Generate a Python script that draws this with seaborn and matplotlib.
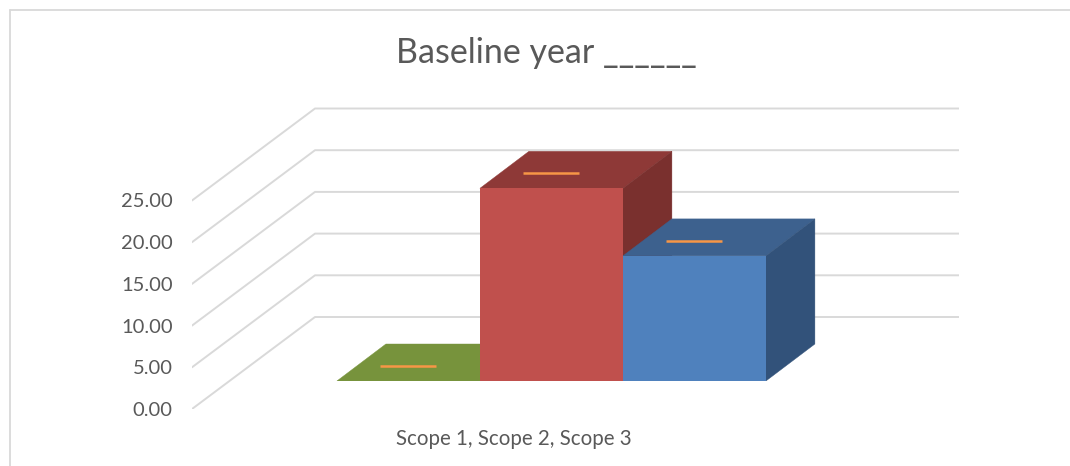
"""
Baseline year chart, faux 3D columns drawn on seaborn bars
"""

import matplotlib.pyplot as plt
from matplotlib.lines import Line2D
from matplotlib.patches import Polygon
import pandas as pd
import seaborn as sns

# Data
category = ['Scope 1, Scope 2, Scope 3']
scopes = ['Scope 1', 'Scope 2', 'Scope 3']
values = [0.0, 23.1, 15.0]
y_ticks = [0, 5, 10, 15, 20, 25]
title = 'Baseline year ______'

# Colours per scope
front_colors = ['#77933C', '#C0504D', '#4F81BD']
top_colors = ['#77933C', '#8E3937', '#3D618E']
side_colors = ['#5F7530', '#7A302E', '#32527A']
GRID = '#D9D9D9'
TEXT = '#595959'
DASH = '#F79646'

W, H = 1070, 466
PX_PER_UNIT = 8.34
Y_MAX = 40

sns.set_theme(style='white')
plt.rcParams['font.family'] = ['Lato', 'DejaVu Sans']

fig = plt.figure(figsize=(W / 100, H / 100), dpi=100)
height = Y_MAX * PX_PER_UNIT

# Walls: gridlines, value labels and the category label
ax_wall = fig.add_axes([192 / W, 1 - 409 / H, 767 / W, height / H])
ax_wall.set_xlim(0, 1)
ax_wall.set_ylim(0, Y_MAX)
wall_dx = 123 / 767
wall_dy = 92 / PX_PER_UNIT
for v in y_ticks:
    ax_wall.plot([0, wall_dx, 1], [v, v + wall_dy, v + wall_dy], color=GRID, lw=1.4)
ax_wall.set_yticks(y_ticks, [f'{v:.2f}' for v in y_ticks])
ax_wall.set_xticks([(1 - wall_dx) / 2], category)
ax_wall.tick_params(axis='y', length=0, pad=14, labelsize=14.5, labelcolor=TEXT)
ax_wall.tick_params(axis='x', length=0, pad=14.5, labelsize=14.8, labelcolor=TEXT)
sns.despine(ax=ax_wall, left=True, bottom=True)

# Columns: front faces come from seaborn, the depth faces follow the bars
ax = fig.add_axes([229.4 / W, 1 - 381 / H, 644 / W, height / H])
ax.patch.set_alpha(0)
df = pd.DataFrame({'category': category * 3, 'scope': scopes, 'value': values})
sns.barplot(data=df, x='category', y='value', hue='scope', palette=front_colors,
            width=429 / 644, gap=0, saturation=1, legend=False, linewidth=0, ax=ax)
ax.set_xlim(-0.5, 0.5)
ax.set_ylim(0, Y_MAX)
ax.axis('off')

bar_dx = 49 / 644
bar_dy = 37 / PX_PER_UNIT
dash_half = 28 / 644
dash_up = 15 / PX_PER_UNIT
for i, container in enumerate(ax.containers):
    bar = container[0]
    x0, x1, top = bar.get_x(), bar.get_x() + bar.get_width(), bar.get_height()
    bar.set_zorder(10)
    ax.add_patch(Polygon([(x0, top), (x1, top), (x1 + bar_dx, top + bar_dy), (x0 + bar_dx, top + bar_dy)],
                         facecolor=top_colors[i], edgecolor=top_colors[i], lw=0.3, zorder=2 + i))
    if top > 0:
        ax.add_patch(Polygon([(x1, 0), (x1, top), (x1 + bar_dx, top + bar_dy), (x1 + bar_dx, bar_dy)],
                             facecolor=side_colors[i], edgecolor=side_colors[i], lw=0.3, zorder=2 + i))
    xc = (x0 + x1) / 2
    ax.plot([xc - dash_half, xc + dash_half], [top + dash_up, top + dash_up],
            color=DASH, lw=1.8, solid_capstyle='butt', zorder=8)

# Chart frame, open on the right and at the bottom
fig.add_artist(Line2D([10 / W, 1], [1 - 9.5 / H] * 2, color=GRID, lw=1.3))
fig.add_artist(Line2D([10 / W] * 2, [0, 1 - 9.5 / H], color=GRID, lw=1.3))

fig.text(546 / W, 1 - 53 / H, title, ha='center', va='center', fontsize=24.5, color=TEXT)

fig.savefig('out.png', dpi=100)
